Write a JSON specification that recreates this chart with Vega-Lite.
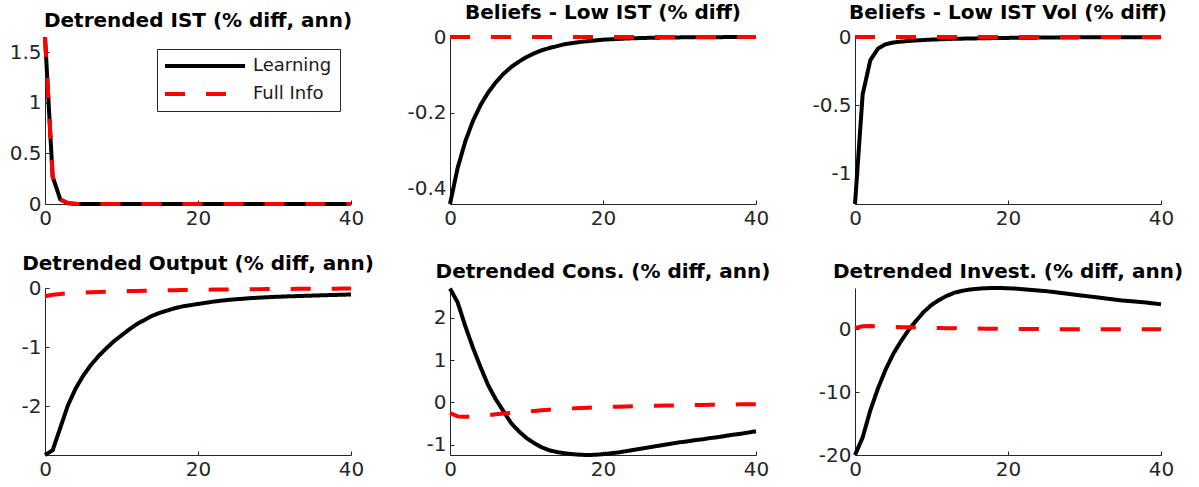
{
  "$schema": "https://vega.github.io/schema/vega-lite/v6.json",
  "background": "#ffffff",
  "padding": {"left": 9, "top": 3, "right": 4, "bottom": 4},
  "bounds": "flush",
  "columns": 3,
  "spacing": {"row": 84, "column": 99},
  "resolve": {"scale": {"color": "independent", "strokeDash": "independent"}},
  "config": {
    "view": {"stroke": null},
    "font": "DejaVu Sans",
    "axis": {
      "grid": false,
      "domainColor": "#262626",
      "domainWidth": 1,
      "tickColor": "#262626",
      "tickSize": -4,
      "tickWidth": 1,
      "labelFont": "DejaVu Sans",
      "labelFontSize": 20,
      "labelColor": "#262626",
      "labelPadding": 8,
      "labelFlush": false,
      "labelOverlap": false
    },
    "title": {"font": "DejaVu Sans", "fontSize": 20, "fontWeight": "bold", "color": "#000000", "anchor": "middle", "offset": 4},
    "legend": {
      "orient": "none",
      "legendX": 112,
      "legendY": 12,
      "symbolType": "M-40,0H40",
      "symbolSize": 4,
      "symbolOffset": 31,
      "symbolStrokeWidth": 4,
      "labelFont": "DejaVu Sans",
      "labelFontSize": 18,
      "labelColor": "#1a1a1a",
      "labelOffset": 39,
      "padding": 8,
      "rowPadding": 10,
      "strokeColor": "#262626",
      "fillColor": "#ffffff"
    }
  },
  "datasets": {
    "irf": [
      {"p":1,"t":0,"Learning":1.65,"Full Info":1.65},{"p":1,"t":1,"Learning":0.27,"Full Info":0.27},{"p":1,"t":2,"Learning":0.045,"Full Info":0.045},{"p":1,"t":3,"Learning":0.008,"Full Info":0.008},{"p":1,"t":4,"Learning":0.0013,"Full Info":0.0013},{"p":1,"t":5,"Learning":0.0002,"Full Info":0.0002},{"p":1,"t":6,"Learning":0,"Full Info":0},{"p":1,"t":7,"Learning":0,"Full Info":0},{"p":1,"t":8,"Learning":0,"Full Info":0},{"p":1,"t":9,"Learning":0,"Full Info":0},{"p":1,"t":10,"Learning":0,"Full Info":0},{"p":1,"t":11,"Learning":0,"Full Info":0},{"p":1,"t":12,"Learning":0,"Full Info":0},{"p":1,"t":13,"Learning":0,"Full Info":0},{"p":1,"t":14,"Learning":0,"Full Info":0},{"p":1,"t":15,"Learning":0,"Full Info":0},{"p":1,"t":16,"Learning":0,"Full Info":0},{"p":1,"t":17,"Learning":0,"Full Info":0},{"p":1,"t":18,"Learning":0,"Full Info":0},{"p":1,"t":19,"Learning":0,"Full Info":0},{"p":1,"t":20,"Learning":0,"Full Info":0},{"p":1,"t":21,"Learning":0,"Full Info":0},{"p":1,"t":22,"Learning":0,"Full Info":0},{"p":1,"t":23,"Learning":0,"Full Info":0},{"p":1,"t":24,"Learning":0,"Full Info":0},{"p":1,"t":25,"Learning":0,"Full Info":0},{"p":1,"t":26,"Learning":0,"Full Info":0},{"p":1,"t":27,"Learning":0,"Full Info":0},{"p":1,"t":28,"Learning":0,"Full Info":0},{"p":1,"t":29,"Learning":0,"Full Info":0},{"p":1,"t":30,"Learning":0,"Full Info":0},{"p":1,"t":31,"Learning":0,"Full Info":0},{"p":1,"t":32,"Learning":0,"Full Info":0},{"p":1,"t":33,"Learning":0,"Full Info":0},{"p":1,"t":34,"Learning":0,"Full Info":0},{"p":1,"t":35,"Learning":0,"Full Info":0},{"p":1,"t":36,"Learning":0,"Full Info":0},{"p":1,"t":37,"Learning":0,"Full Info":0},{"p":1,"t":38,"Learning":0,"Full Info":0},{"p":1,"t":39,"Learning":0,"Full Info":0},{"p":1,"t":40,"Learning":0,"Full Info":0},

      {"p":2,"t":0,"Learning":-0.44,"Full Info":0},{"p":2,"t":1,"Learning":-0.345,"Full Info":0},{"p":2,"t":2,"Learning":-0.275,"Full Info":0},{"p":2,"t":3,"Learning":-0.221,"Full Info":0},{"p":2,"t":4,"Learning":-0.179,"Full Info":0},{"p":2,"t":5,"Learning":-0.146,"Full Info":0},{"p":2,"t":6,"Learning":-0.119,"Full Info":0},{"p":2,"t":7,"Learning":-0.097,"Full Info":0},{"p":2,"t":8,"Learning":-0.079,"Full Info":0},{"p":2,"t":9,"Learning":-0.065,"Full Info":0},{"p":2,"t":10,"Learning":-0.053,"Full Info":0},{"p":2,"t":11,"Learning":-0.043,"Full Info":0},{"p":2,"t":12,"Learning":-0.035,"Full Info":0},{"p":2,"t":13,"Learning":-0.029,"Full Info":0},{"p":2,"t":14,"Learning":-0.024,"Full Info":0},{"p":2,"t":15,"Learning":-0.019,"Full Info":0},{"p":2,"t":16,"Learning":-0.016,"Full Info":0},{"p":2,"t":17,"Learning":-0.013,"Full Info":0},{"p":2,"t":18,"Learning":-0.011,"Full Info":0},{"p":2,"t":19,"Learning":-0.009,"Full Info":0},{"p":2,"t":20,"Learning":-0.007,"Full Info":0},{"p":2,"t":21,"Learning":-0.006,"Full Info":0},{"p":2,"t":22,"Learning":-0.005,"Full Info":0},{"p":2,"t":23,"Learning":-0.004,"Full Info":0},{"p":2,"t":24,"Learning":-0.0033,"Full Info":0},{"p":2,"t":25,"Learning":-0.0027,"Full Info":0},{"p":2,"t":26,"Learning":-0.0022,"Full Info":0},{"p":2,"t":27,"Learning":-0.0018,"Full Info":0},{"p":2,"t":28,"Learning":-0.0015,"Full Info":0},{"p":2,"t":29,"Learning":-0.0012,"Full Info":0},{"p":2,"t":30,"Learning":-0.001,"Full Info":0},{"p":2,"t":31,"Learning":-0.0008,"Full Info":0},{"p":2,"t":32,"Learning":-0.0007,"Full Info":0},{"p":2,"t":33,"Learning":-0.0005,"Full Info":0},{"p":2,"t":34,"Learning":-0.0004,"Full Info":0},{"p":2,"t":35,"Learning":-0.0004,"Full Info":0},{"p":2,"t":36,"Learning":-0.0003,"Full Info":0},{"p":2,"t":37,"Learning":-0.0002,"Full Info":0},{"p":2,"t":38,"Learning":-0.0002,"Full Info":0},{"p":2,"t":39,"Learning":-0.0002,"Full Info":0},{"p":2,"t":40,"Learning":-0.0001,"Full Info":0},

      {"p":3,"t":0,"Learning":-1.22,"Full Info":0},{"p":3,"t":1,"Learning":-0.42,"Full Info":0},{"p":3,"t":2,"Learning":-0.17,"Full Info":0},{"p":3,"t":3,"Learning":-0.085,"Full Info":0},{"p":3,"t":4,"Learning":-0.053,"Full Info":0},{"p":3,"t":5,"Learning":-0.04,"Full Info":0},{"p":3,"t":6,"Learning":-0.034,"Full Info":0},{"p":3,"t":7,"Learning":-0.029,"Full Info":0},{"p":3,"t":8,"Learning":-0.025,"Full Info":0},{"p":3,"t":9,"Learning":-0.022,"Full Info":0},{"p":3,"t":10,"Learning":-0.019,"Full Info":0},{"p":3,"t":11,"Learning":-0.017,"Full Info":0},{"p":3,"t":12,"Learning":-0.015,"Full Info":0},{"p":3,"t":13,"Learning":-0.013,"Full Info":0},{"p":3,"t":14,"Learning":-0.012,"Full Info":0},{"p":3,"t":15,"Learning":-0.011,"Full Info":0},{"p":3,"t":16,"Learning":-0.01,"Full Info":0},{"p":3,"t":17,"Learning":-0.009,"Full Info":0},{"p":3,"t":18,"Learning":-0.008,"Full Info":0},{"p":3,"t":19,"Learning":-0.007,"Full Info":0},{"p":3,"t":20,"Learning":-0.0065,"Full Info":0},{"p":3,"t":21,"Learning":-0.006,"Full Info":0},{"p":3,"t":22,"Learning":-0.0055,"Full Info":0},{"p":3,"t":23,"Learning":-0.005,"Full Info":0},{"p":3,"t":24,"Learning":-0.0045,"Full Info":0},{"p":3,"t":25,"Learning":-0.004,"Full Info":0},{"p":3,"t":26,"Learning":-0.0037,"Full Info":0},{"p":3,"t":27,"Learning":-0.0034,"Full Info":0},{"p":3,"t":28,"Learning":-0.0031,"Full Info":0},{"p":3,"t":29,"Learning":-0.0028,"Full Info":0},{"p":3,"t":30,"Learning":-0.0025,"Full Info":0},{"p":3,"t":31,"Learning":-0.0023,"Full Info":0},{"p":3,"t":32,"Learning":-0.0021,"Full Info":0},{"p":3,"t":33,"Learning":-0.0019,"Full Info":0},{"p":3,"t":34,"Learning":-0.0017,"Full Info":0},{"p":3,"t":35,"Learning":-0.0015,"Full Info":0},{"p":3,"t":36,"Learning":-0.0014,"Full Info":0},{"p":3,"t":37,"Learning":-0.0013,"Full Info":0},{"p":3,"t":38,"Learning":-0.0012,"Full Info":0},{"p":3,"t":39,"Learning":-0.0011,"Full Info":0},{"p":3,"t":40,"Learning":-0.001,"Full Info":0},

      {"p":4,"t":0,"Learning":-2.82,"Full Info":-0.14},{"p":4,"t":1,"Learning":-2.74,"Full Info":-0.115},{"p":4,"t":2,"Learning":-2.36,"Full Info":-0.1},{"p":4,"t":3,"Learning":-1.98,"Full Info":-0.09},{"p":4,"t":4,"Learning":-1.7,"Full Info":-0.082},{"p":4,"t":5,"Learning":-1.48,"Full Info":-0.076},{"p":4,"t":6,"Learning":-1.3,"Full Info":-0.07},{"p":4,"t":7,"Learning":-1.15,"Full Info":-0.066},{"p":4,"t":8,"Learning":-1.02,"Full Info":-0.062},{"p":4,"t":9,"Learning":-0.9,"Full Info":-0.058},{"p":4,"t":10,"Learning":-0.8,"Full Info":-0.055},{"p":4,"t":11,"Learning":-0.7,"Full Info":-0.052},{"p":4,"t":12,"Learning":-0.61,"Full Info":-0.049},{"p":4,"t":13,"Learning":-0.54,"Full Info":-0.046},{"p":4,"t":14,"Learning":-0.47,"Full Info":-0.043},{"p":4,"t":15,"Learning":-0.42,"Full Info":-0.041},{"p":4,"t":16,"Learning":-0.38,"Full Info":-0.038},{"p":4,"t":17,"Learning":-0.34,"Full Info":-0.036},{"p":4,"t":18,"Learning":-0.31,"Full Info":-0.034},{"p":4,"t":19,"Learning":-0.29,"Full Info":-0.032},{"p":4,"t":20,"Learning":-0.27,"Full Info":-0.03},{"p":4,"t":21,"Learning":-0.25,"Full Info":-0.028},{"p":4,"t":22,"Learning":-0.23,"Full Info":-0.027},{"p":4,"t":23,"Learning":-0.215,"Full Info":-0.025},{"p":4,"t":24,"Learning":-0.2,"Full Info":-0.024},{"p":4,"t":25,"Learning":-0.19,"Full Info":-0.022},{"p":4,"t":26,"Learning":-0.18,"Full Info":-0.021},{"p":4,"t":27,"Learning":-0.17,"Full Info":-0.02},{"p":4,"t":28,"Learning":-0.163,"Full Info":-0.019},{"p":4,"t":29,"Learning":-0.156,"Full Info":-0.018},{"p":4,"t":30,"Learning":-0.15,"Full Info":-0.017},{"p":4,"t":31,"Learning":-0.145,"Full Info":-0.016},{"p":4,"t":32,"Learning":-0.14,"Full Info":-0.015},{"p":4,"t":33,"Learning":-0.136,"Full Info":-0.014},{"p":4,"t":34,"Learning":-0.132,"Full Info":-0.013},{"p":4,"t":35,"Learning":-0.128,"Full Info":-0.013},{"p":4,"t":36,"Learning":-0.124,"Full Info":-0.012},{"p":4,"t":37,"Learning":-0.12,"Full Info":-0.011},{"p":4,"t":38,"Learning":-0.117,"Full Info":-0.011},{"p":4,"t":39,"Learning":-0.113,"Full Info":-0.01},{"p":4,"t":40,"Learning":-0.11,"Full Info":-0.01},

      {"p":5,"t":0,"Learning":2.69,"Full Info":-0.25},{"p":5,"t":1,"Learning":2.36,"Full Info":-0.33},{"p":5,"t":2,"Learning":1.8,"Full Info":-0.34},{"p":5,"t":3,"Learning":1.29,"Full Info":-0.33},{"p":5,"t":4,"Learning":0.83,"Full Info":-0.32},{"p":5,"t":5,"Learning":0.4,"Full Info":-0.3},{"p":5,"t":6,"Learning":0.07,"Full Info":-0.28},{"p":5,"t":7,"Learning":-0.21,"Full Info":-0.26},{"p":5,"t":8,"Learning":-0.49,"Full Info":-0.245},{"p":5,"t":9,"Learning":-0.68,"Full Info":-0.23},{"p":5,"t":10,"Learning":-0.84,"Full Info":-0.215},{"p":5,"t":11,"Learning":-0.96,"Full Info":-0.2},{"p":5,"t":12,"Learning":-1.06,"Full Info":-0.185},{"p":5,"t":13,"Learning":-1.13,"Full Info":-0.17},{"p":5,"t":14,"Learning":-1.17,"Full Info":-0.16},{"p":5,"t":15,"Learning":-1.2,"Full Info":-0.15},{"p":5,"t":16,"Learning":-1.22,"Full Info":-0.14},{"p":5,"t":17,"Learning":-1.235,"Full Info":-0.132},{"p":5,"t":18,"Learning":-1.24,"Full Info":-0.125},{"p":5,"t":19,"Learning":-1.235,"Full Info":-0.118},{"p":5,"t":20,"Learning":-1.22,"Full Info":-0.11},{"p":5,"t":21,"Learning":-1.2,"Full Info":-0.105},{"p":5,"t":22,"Learning":-1.18,"Full Info":-0.1},{"p":5,"t":23,"Learning":-1.15,"Full Info":-0.095},{"p":5,"t":24,"Learning":-1.12,"Full Info":-0.09},{"p":5,"t":25,"Learning":-1.09,"Full Info":-0.086},{"p":5,"t":26,"Learning":-1.06,"Full Info":-0.082},{"p":5,"t":27,"Learning":-1.03,"Full Info":-0.078},{"p":5,"t":28,"Learning":-1.0,"Full Info":-0.074},{"p":5,"t":29,"Learning":-0.97,"Full Info":-0.07},{"p":5,"t":30,"Learning":-0.94,"Full Info":-0.067},{"p":5,"t":31,"Learning":-0.92,"Full Info":-0.064},{"p":5,"t":32,"Learning":-0.89,"Full Info":-0.061},{"p":5,"t":33,"Learning":-0.87,"Full Info":-0.058},{"p":5,"t":34,"Learning":-0.84,"Full Info":-0.055},{"p":5,"t":35,"Learning":-0.82,"Full Info":-0.052},{"p":5,"t":36,"Learning":-0.79,"Full Info":-0.05},{"p":5,"t":37,"Learning":-0.76,"Full Info":-0.047},{"p":5,"t":38,"Learning":-0.74,"Full Info":-0.045},{"p":5,"t":39,"Learning":-0.71,"Full Info":-0.042},{"p":5,"t":40,"Learning":-0.68,"Full Info":-0.04},

      {"p":6,"t":0,"Learning":-20,"Full Info":0.25},{"p":6,"t":1,"Learning":-17.2,"Full Info":0.5},{"p":6,"t":2,"Learning":-12.9,"Full Info":0.55},{"p":6,"t":3,"Learning":-9.4,"Full Info":0.5},{"p":6,"t":4,"Learning":-6.4,"Full Info":0.45},{"p":6,"t":5,"Learning":-3.9,"Full Info":0.4},{"p":6,"t":6,"Learning":-1.9,"Full Info":0.36},{"p":6,"t":7,"Learning":-0.1,"Full Info":0.33},{"p":6,"t":8,"Learning":1.4,"Full Info":0.3},{"p":6,"t":9,"Learning":2.8,"Full Info":0.27},{"p":6,"t":10,"Learning":3.9,"Full Info":0.24},{"p":6,"t":11,"Learning":4.7,"Full Info":0.22},{"p":6,"t":12,"Learning":5.35,"Full Info":0.2},{"p":6,"t":13,"Learning":5.85,"Full Info":0.18},{"p":6,"t":14,"Learning":6.15,"Full Info":0.16},{"p":6,"t":15,"Learning":6.35,"Full Info":0.14},{"p":6,"t":16,"Learning":6.48,"Full Info":0.13},{"p":6,"t":17,"Learning":6.56,"Full Info":0.12},{"p":6,"t":18,"Learning":6.6,"Full Info":0.1},{"p":6,"t":19,"Learning":6.6,"Full Info":0.09},{"p":6,"t":20,"Learning":6.55,"Full Info":0.08},{"p":6,"t":21,"Learning":6.5,"Full Info":0.07},{"p":6,"t":22,"Learning":6.4,"Full Info":0.06},{"p":6,"t":23,"Learning":6.3,"Full Info":0.06},{"p":6,"t":24,"Learning":6.2,"Full Info":0.05},{"p":6,"t":25,"Learning":6.1,"Full Info":0.05},{"p":6,"t":26,"Learning":5.95,"Full Info":0.04},{"p":6,"t":27,"Learning":5.8,"Full Info":0.04},{"p":6,"t":28,"Learning":5.65,"Full Info":0.03},{"p":6,"t":29,"Learning":5.5,"Full Info":0.03},{"p":6,"t":30,"Learning":5.35,"Full Info":0.03},{"p":6,"t":31,"Learning":5.2,"Full Info":0.02},{"p":6,"t":32,"Learning":5.05,"Full Info":0.02},{"p":6,"t":33,"Learning":4.9,"Full Info":0.02},{"p":6,"t":34,"Learning":4.75,"Full Info":0.02},{"p":6,"t":35,"Learning":4.6,"Full Info":0.01},{"p":6,"t":36,"Learning":4.5,"Full Info":0.01},{"p":6,"t":37,"Learning":4.4,"Full Info":0.01},{"p":6,"t":38,"Learning":4.3,"Full Info":0.01},{"p":6,"t":39,"Learning":4.15,"Full Info":0.01},{"p":6,"t":40,"Learning":4.0,"Full Info":0.01}
    ]
  },
  "concat": [
    {
      "title": "Detrended IST (% diff, ann)",
      "width": 306, "height": 167,
      "data": {"name": "irf"},
      "transform": [{"filter": "datum.p == 1"}, {"fold": ["Learning", "Full Info"], "as": ["series", "value"]}],
      "encoding": {
        "x": {"field": "t", "type": "quantitative", "scale": {"domain": [0, 40], "nice": false, "zero": false}, "axis": {"values": [0, 20, 40], "title": null, "labelExpr": "toString(datum.value)"}},
        "y": {"field": "value", "type": "quantitative", "scale": {"domain": [0, 1.65], "nice": false, "zero": false}, "axis": {"values": [0, 0.5, 1, 1.5], "title": null, "labelExpr": "toString(datum.value)"}}
      },
      "layer": [
        {"transform": [{"filter": "datum.series == 'Learning'"}], "mark": {"type": "line", "strokeWidth": 4, "strokeCap": "butt", "strokeJoin": "round"},
         "encoding": {
           "color": {"field": "series", "type": "nominal", "scale": {"domain": ["Learning", "Full Info"], "range": ["#000000", "#ff0000"]}, "legend": {"title": null}},
           "strokeDash": {"field": "series", "type": "nominal", "scale": {"domain": ["Learning", "Full Info"], "range": [[1, 0], [20, 21]]}, "legend": {"title": null}}}},
        {"transform": [{"filter": "datum.series == 'Full Info'"}], "mark": {"type": "line", "strokeWidth": 4, "strokeCap": "butt", "strokeJoin": "round"},
         "encoding": {
           "color": {"field": "series", "type": "nominal"},
           "strokeDash": {"field": "series", "type": "nominal"}}},
        {"transform": [{"filter": "datum.t == 0 && datum.series == 'Learning'"}], "mark": {"type": "rule", "color": "#000000", "strokeWidth": 1.2, "strokeDash": [1.5, 2.2]},
         "encoding": {"y": {"datum": 0}}}
      ]
    },
    {
      "title": "Beliefs - Low IST (% diff)",
      "width": 306, "height": 167,
      "data": {"name": "irf"},
      "transform": [{"filter": "datum.p == 2"}, {"fold": ["Learning", "Full Info"], "as": ["series", "value"]}],
      "encoding": {
        "x": {"field": "t", "type": "quantitative", "scale": {"domain": [0, 40], "nice": false, "zero": false}, "axis": {"values": [0, 20, 40], "title": null, "labelExpr": "toString(datum.value)"}},
        "y": {"field": "value", "type": "quantitative", "scale": {"domain": [-0.44, 0], "nice": false, "zero": false}, "axis": {"values": [-0.4, -0.2, 0], "title": null, "labelExpr": "toString(datum.value)"}}
      },
      "layer": [
        {"transform": [{"filter": "datum.series == 'Learning'"}], "mark": {"type": "line", "strokeWidth": 4, "strokeCap": "butt", "strokeJoin": "round"},
         "encoding": {
           "color": {"field": "series", "type": "nominal", "scale": {"domain": ["Learning", "Full Info"], "range": ["#000000", "#ff0000"]}, "legend": null},
           "strokeDash": {"field": "series", "type": "nominal", "scale": {"domain": ["Learning", "Full Info"], "range": [[1, 0], [20, 21]]}, "legend": null}}},
        {"transform": [{"filter": "datum.series == 'Full Info'"}], "mark": {"type": "line", "strokeWidth": 4, "strokeCap": "butt", "strokeJoin": "round"},
         "encoding": {
           "color": {"field": "series", "type": "nominal", "legend": null},
           "strokeDash": {"field": "series", "type": "nominal", "legend": null}}},
        {"transform": [{"filter": "datum.t == 0 && datum.series == 'Learning'"}], "mark": {"type": "rule", "color": "#000000", "strokeWidth": 1.2, "strokeDash": [1.5, 2.2]},
         "encoding": {"y": {"datum": 0}}}
      ]
    },
    {
      "title": "Beliefs - Low IST Vol (% diff)",
      "width": 306, "height": 167,
      "data": {"name": "irf"},
      "transform": [{"filter": "datum.p == 3"}, {"fold": ["Learning", "Full Info"], "as": ["series", "value"]}],
      "encoding": {
        "x": {"field": "t", "type": "quantitative", "scale": {"domain": [0, 40], "nice": false, "zero": false}, "axis": {"values": [0, 20, 40], "title": null, "labelExpr": "toString(datum.value)"}},
        "y": {"field": "value", "type": "quantitative", "scale": {"domain": [-1.22, 0], "nice": false, "zero": false}, "axis": {"values": [-1, -0.5, 0], "title": null, "labelExpr": "toString(datum.value)"}}
      },
      "layer": [
        {"transform": [{"filter": "datum.series == 'Learning'"}], "mark": {"type": "line", "strokeWidth": 4, "strokeCap": "butt", "strokeJoin": "round"},
         "encoding": {
           "color": {"field": "series", "type": "nominal", "scale": {"domain": ["Learning", "Full Info"], "range": ["#000000", "#ff0000"]}, "legend": null},
           "strokeDash": {"field": "series", "type": "nominal", "scale": {"domain": ["Learning", "Full Info"], "range": [[1, 0], [20, 21]]}, "legend": null}}},
        {"transform": [{"filter": "datum.series == 'Full Info'"}], "mark": {"type": "line", "strokeWidth": 4, "strokeCap": "butt", "strokeJoin": "round"},
         "encoding": {
           "color": {"field": "series", "type": "nominal", "legend": null},
           "strokeDash": {"field": "series", "type": "nominal", "legend": null}}},
        {"transform": [{"filter": "datum.t == 0 && datum.series == 'Learning'"}], "mark": {"type": "rule", "color": "#000000", "strokeWidth": 1.2, "strokeDash": [1.5, 2.2]},
         "encoding": {"y": {"datum": 0}}}
      ]
    },
    {
      "title": "Detrended Output (% diff, ann)",
      "width": 306, "height": 167,
      "data": {"name": "irf"},
      "transform": [{"filter": "datum.p == 4"}, {"fold": ["Learning", "Full Info"], "as": ["series", "value"]}],
      "encoding": {
        "x": {"field": "t", "type": "quantitative", "scale": {"domain": [0, 40], "nice": false, "zero": false}, "axis": {"values": [0, 20, 40], "title": null, "labelExpr": "toString(datum.value)"}},
        "y": {"field": "value", "type": "quantitative", "scale": {"domain": [-2.82, 0], "nice": false, "zero": false}, "axis": {"values": [-2, -1, 0], "title": null, "labelExpr": "toString(datum.value)"}}
      },
      "layer": [
        {"transform": [{"filter": "datum.series == 'Learning'"}], "mark": {"type": "line", "strokeWidth": 4, "strokeCap": "butt", "strokeJoin": "round"},
         "encoding": {
           "color": {"field": "series", "type": "nominal", "scale": {"domain": ["Learning", "Full Info"], "range": ["#000000", "#ff0000"]}, "legend": null},
           "strokeDash": {"field": "series", "type": "nominal", "scale": {"domain": ["Learning", "Full Info"], "range": [[1, 0], [20, 21]]}, "legend": null}}},
        {"transform": [{"filter": "datum.series == 'Full Info'"}], "mark": {"type": "line", "strokeWidth": 4, "strokeCap": "butt", "strokeJoin": "round"},
         "encoding": {
           "color": {"field": "series", "type": "nominal", "legend": null},
           "strokeDash": {"field": "series", "type": "nominal", "legend": null}}},
        {"transform": [{"filter": "datum.t == 0 && datum.series == 'Learning'"}], "mark": {"type": "rule", "color": "#000000", "strokeWidth": 1.2, "strokeDash": [1.5, 2.2]},
         "encoding": {"y": {"datum": 0}}}
      ]
    },
    {
      "title": "Detrended Cons. (% diff, ann)",
      "width": 306, "height": 167,
      "data": {"name": "irf"},
      "transform": [{"filter": "datum.p == 5"}, {"fold": ["Learning", "Full Info"], "as": ["series", "value"]}],
      "encoding": {
        "x": {"field": "t", "type": "quantitative", "scale": {"domain": [0, 40], "nice": false, "zero": false}, "axis": {"values": [0, 20, 40], "title": null, "labelExpr": "toString(datum.value)"}},
        "y": {"field": "value", "type": "quantitative", "scale": {"domain": [-1.24, 2.7], "nice": false, "zero": false}, "axis": {"values": [-1, 0, 1, 2], "title": null, "labelExpr": "toString(datum.value)"}}
      },
      "layer": [
        {"transform": [{"filter": "datum.series == 'Learning'"}], "mark": {"type": "line", "strokeWidth": 4, "strokeCap": "butt", "strokeJoin": "round"},
         "encoding": {
           "color": {"field": "series", "type": "nominal", "scale": {"domain": ["Learning", "Full Info"], "range": ["#000000", "#ff0000"]}, "legend": null},
           "strokeDash": {"field": "series", "type": "nominal", "scale": {"domain": ["Learning", "Full Info"], "range": [[1, 0], [20, 21]]}, "legend": null}}},
        {"transform": [{"filter": "datum.series == 'Full Info'"}], "mark": {"type": "line", "strokeWidth": 4, "strokeCap": "butt", "strokeJoin": "round"},
         "encoding": {
           "color": {"field": "series", "type": "nominal", "legend": null},
           "strokeDash": {"field": "series", "type": "nominal", "legend": null}}},
        {"transform": [{"filter": "datum.t == 0 && datum.series == 'Learning'"}], "mark": {"type": "rule", "color": "#000000", "strokeWidth": 1.2, "strokeDash": [1.5, 2.2]},
         "encoding": {"y": {"datum": 0}}}
      ]
    },
    {
      "title": "Detrended Invest. (% diff, ann)",
      "width": 306, "height": 167,
      "data": {"name": "irf"},
      "transform": [{"filter": "datum.p == 6"}, {"fold": ["Learning", "Full Info"], "as": ["series", "value"]}],
      "encoding": {
        "x": {"field": "t", "type": "quantitative", "scale": {"domain": [0, 40], "nice": false, "zero": false}, "axis": {"values": [0, 20, 40], "title": null, "labelExpr": "toString(datum.value)"}},
        "y": {"field": "value", "type": "quantitative", "scale": {"domain": [-20, 6.6], "nice": false, "zero": false}, "axis": {"values": [-20, -10, 0], "title": null, "labelExpr": "toString(datum.value)"}}
      },
      "layer": [
        {"transform": [{"filter": "datum.series == 'Learning'"}], "mark": {"type": "line", "strokeWidth": 4, "strokeCap": "butt", "strokeJoin": "round"},
         "encoding": {
           "color": {"field": "series", "type": "nominal", "scale": {"domain": ["Learning", "Full Info"], "range": ["#000000", "#ff0000"]}, "legend": null},
           "strokeDash": {"field": "series", "type": "nominal", "scale": {"domain": ["Learning", "Full Info"], "range": [[1, 0], [20, 21]]}, "legend": null}}},
        {"transform": [{"filter": "datum.series == 'Full Info'"}], "mark": {"type": "line", "strokeWidth": 4, "strokeCap": "butt", "strokeJoin": "round"},
         "encoding": {
           "color": {"field": "series", "type": "nominal", "legend": null},
           "strokeDash": {"field": "series", "type": "nominal", "legend": null}}},
        {"transform": [{"filter": "datum.t == 0 && datum.series == 'Learning'"}], "mark": {"type": "rule", "color": "#000000", "strokeWidth": 1.2, "strokeDash": [1.5, 2.2]},
         "encoding": {"y": {"datum": 0}}}
      ]
    }
  ]
}
